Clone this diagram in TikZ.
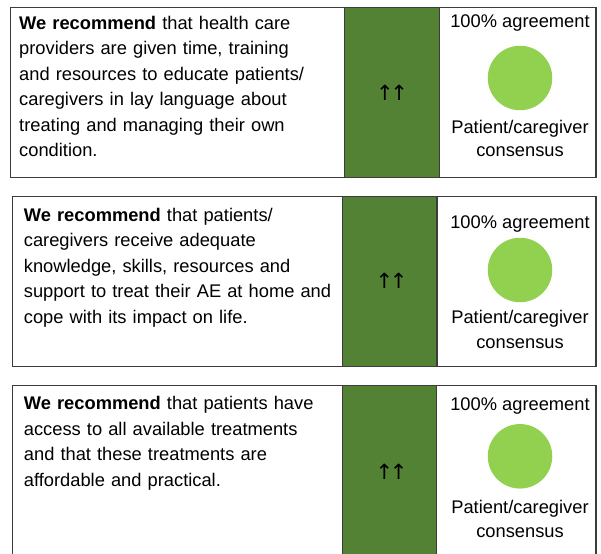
\documentclass[tikz,border=0pt]{standalone}
\usepackage{fontspec}
\setmainfont{Liberation Sans}
\newfontfamily\arrowfont{DejaVu Sans}
\definecolor{colgreen}{HTML}{548235}
\definecolor{dotgreen}{HTML}{92D050}
\definecolor{edgegray}{HTML}{3C3C3C}
\newcommand{\uparrs}{↑\kern-3.5pt↑}
\begin{document}
\begin{tikzpicture}[x=1pt,y=-1pt,
  box/.style={draw=edgegray, line width=1.4pt, fill=white},
  col/.style={draw=edgegray, line width=1.4pt, fill=colgreen},
  body/.style={inner sep=0pt, anchor=north west, text width=320pt, align=left,
    font=\fontsize{18.3}{25.5}\selectfont},
  lbl/.style={inner sep=0pt, anchor=base, font=\fontsize{18.3}{22}\selectfont},
  dot/.style={circle, fill=dotgreen, minimum size=64.5pt, inner sep=0pt},
  arr/.style={inner sep=0pt, font=\arrowfont\fontsize{21}{24}\selectfont}]
\useasboundingbox (0,0) rectangle (601,553);
\clip (0,0) rectangle (601,553);
% box 1
\draw[box] (10.7,7.5) rectangle (596,177.5);
\draw[col] (344.7,7.5) rectangle (439.3,177.5);
\node[body] (t1) at (19,15.3) {\rule{0pt}{14pt}\textbf{We recommend} that health care\\
providers are given time, training\\
and resources to educate patients/\\
caregivers in lay language about\\
treating and managing their own\\
condition.};
\node[arr] (a1) at (392,92.7) {\uparrs};
\node[lbl] (g1) at (520,27.3) {100\% agreement};
\node[dot] (d1) at (520,78) {};
\node[lbl] (p1) at (520,133.3) {Patient/caregiver};
\node[lbl] (c1) at (520,156.7) {consensus};
% box 2
\draw[box] (12.5,196.7) rectangle (596,366.7);
\draw[col] (342.3,196.7) rectangle (437,366.7);
\node[body] (t2) at (23.7,207) {\rule{0pt}{14pt}\textbf{We recommend} that patients/\\
caregivers receive adequate\\
knowledge, skills, resources and\\
support to treat their AE at home and\\
cope with its impact on life.};
\node[arr] (a2) at (391.5,281) {\uparrs};
\node[lbl] (g2) at (520,228.3) {100\% agreement};
\node[dot] (d2) at (520,270) {};
\node[lbl] (p2) at (520,323.3) {Patient/caregiver};
\node[lbl] (c2) at (520,348.3) {consensus};
% box 3
\draw[box] (12.5,385.7) rectangle (596,620);
\draw[col] (342.3,385.7) rectangle (436.7,620);
\node[body] (t3) at (23.7,395.7) {\rule{0pt}{14pt}\textbf{We recommend} that patients have\\
access to all available treatments\\
and that these treatments are\\
affordable and practical.};
\node[arr] (a3) at (391.5,471.5) {\uparrs};
\node[lbl] (g3) at (520,410) {100\% agreement};
\node[dot] (d3) at (520,456.3) {};
\node[lbl] (p3) at (520,513.3) {Patient/caregiver};
\node[lbl] (c3) at (520,537.7) {consensus};
\end{tikzpicture}
\end{document}
